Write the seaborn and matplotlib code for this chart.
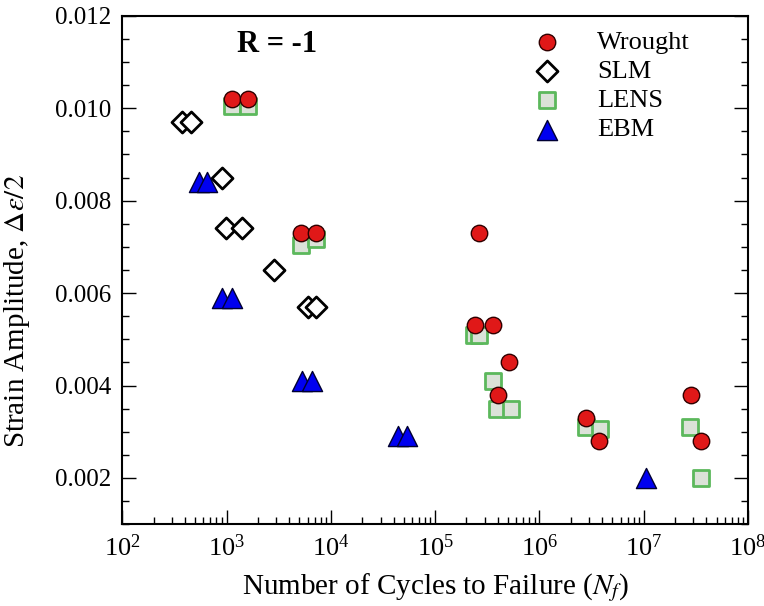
import pandas as pd
import matplotlib
matplotlib.use("Agg")
import matplotlib.pyplot as plt
import seaborn as sns
from matplotlib.ticker import LogLocator, MultipleLocator, NullFormatter

# strain-life data
wrought_n = [1120, 1600, 5200, 7200, 261000, 240000, 360000, 513000, 405000, 2770000, 3730000, 28200000, 35200000]
wrought_e = [0.0102, 0.0102, 0.0073, 0.0073, 0.0073, 0.0053, 0.0053, 0.0045, 0.0038, 0.0033, 0.0028, 0.0038, 0.0028]

slm_n = [373, 455, 902, 991, 1400, 2860, 6090, 7210]
slm_e = [0.0097, 0.0097, 0.0085, 0.0074, 0.0074, 0.0065, 0.0057, 0.0057]

lens_n = [1120, 1600, 5200, 7200, 235000, 265000, 360000, 393000, 535000, 2770000, 3790000, 28000000, 35500000]
lens_e = [0.01005, 0.01005, 0.00704, 0.00718, 0.0051, 0.0051, 0.0041, 0.0035, 0.0035, 0.0031, 0.00305, 0.0031, 0.0020]

ebm_n = [550, 656, 902, 1120, 5260, 6560, 44400, 54100, 10600000]
ebm_e = [0.0084, 0.0084, 0.0059, 0.0059, 0.0041, 0.0041, 0.0029, 0.0029, 0.0020]

frames = []
for name, n, e in [("Wrought", wrought_n, wrought_e), ("SLM", slm_n, slm_e),
                   ("LENS", lens_n, lens_e), ("EBM", ebm_n, ebm_e)]:
    frames.append(pd.DataFrame({"N": n, "strain": e, "series": name}))
data = pd.concat(frames, ignore_index=True)

sns.set_style("white")
plt.rcParams["font.family"] = ["Liberation Serif", "DejaVu Serif"]
plt.rcParams["mathtext.fontset"] = "stix"
plt.rcParams["text.color"] = "black"
plt.rcParams["axes.labelcolor"] = "black"
plt.rcParams["xtick.color"] = "black"
plt.rcParams["ytick.color"] = "black"

fig, ax = plt.subplots(figsize=(7.64, 6.06), dpi=100)
fig.subplots_adjust(left=0.160, right=0.979, top=0.974, bottom=0.135)

# draw order: LENS below wrought, wrought on top
sns.scatterplot(data=data[data.series == "SLM"], x="N", y="strain", marker="D", s=115,
                color="white", edgecolor="black", linewidth=2.0, ax=ax, label="SLM", zorder=3)
sns.scatterplot(data=data[data.series == "EBM"], x="N", y="strain", marker="^", s=210,
                color="#0000f0", edgecolor="#000033", linewidth=1.0, ax=ax, label="EBM", zorder=3)
sns.scatterplot(data=data[data.series == "LENS"], x="N", y="strain", marker="s", s=135,
                color="#dbe2d8", edgecolor="#5cb85c", linewidth=2.0, ax=ax, label="LENS", zorder=4)
sns.scatterplot(data=data[data.series == "Wrought"], x="N", y="strain", marker="o", s=140,
                color="#e01818", edgecolor="#300000", linewidth=1.0, ax=ax, label="Wrought", zorder=5)

ax.set_xscale("log")
ax.set_xlim(1e2, 1e8)
ax.set_ylim(0.001, 0.012)
ax.xaxis.set_major_locator(LogLocator(base=10, numticks=10))
ax.xaxis.set_minor_locator(LogLocator(base=10, subs=range(2, 10), numticks=100))
ax.xaxis.set_minor_formatter(NullFormatter())
ax.yaxis.set_major_locator(MultipleLocator(0.002))
ax.yaxis.set_minor_locator(MultipleLocator(0.0005))
ax.yaxis.set_major_formatter(plt.FuncFormatter(lambda v, p: "%.3f" % v))
ax.tick_params(which="both", direction="in", left=True, right=True, bottom=True, top=False,
               width=1.0, color="black")
ax.tick_params(which="major", length=10, labelsize=18, pad=8)
ax.tick_params(axis="x", which="major", labelsize=19, pad=7)
ax.tick_params(which="minor", length=5)

for sp in ax.spines.values():
    sp.set_color("black")
    sp.set_linewidth(1.5)

ax.set_xlabel(r"Number of Cycles to Failure ($N_f$)", fontsize=21, labelpad=8)
ax.set_ylabel(r"Strain Amplitude, $\Delta\epsilon/2$", fontsize=21)
ax.yaxis.set_label_coords(-0.145, 0.42)

ax.text(0.184, 0.943, "R = -1", transform=ax.transAxes, fontsize=22, fontweight="bold",
        ha="left", va="center")

handles, labels = ax.get_legend_handles_labels()
order = ["Wrought", "SLM", "LENS", "EBM"]
hmap = dict(zip(labels, handles))
ax.legend([hmap[k] for k in order], order, loc="upper left", bbox_to_anchor=(0.607, 1.008),
          frameon=False, fontsize=19, handletextpad=0.9, labelspacing=0.22, borderaxespad=0.3)

fig.savefig("out.png", dpi=100)
